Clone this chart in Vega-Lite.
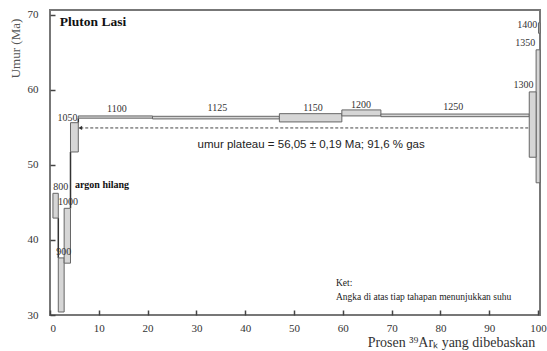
{
  "$schema": "https://vega.github.io/schema/vega-lite/v6.json",
  "width": 490,
  "height": 305,
  "autosize": {"type": "none"},
  "padding": {"left": 50, "top": 10, "right": 7, "bottom": 36},
  "background": "white",
  "config": {
    "view": {"stroke": "#777", "strokeWidth": 2},
    "axis": {
      "domain": false,
      "grid": false,
      "labelFont": "Liberation Serif",
      "labelFontSize": 11,
      "labelColor": "#333",
      "ticks": true,
      "tickColor": "#444",
      "tickWidth": 1.5,
      "tickSize": 5,
      "titleFont": "Liberation Serif",
      "titleFontWeight": "normal"
    }
  },
  "datasets": {
    "steps": [
      {"temp": "800", "x0": 0.6, "x1": 1.7, "lo": 42.9, "hi": 46.2},
      {"temp": "900", "x0": 1.7, "x1": 2.9, "lo": 30.4, "hi": 37.6},
      {"temp": "1000", "x0": 2.9, "x1": 4.2, "lo": 36.9, "hi": 44.2},
      {"temp": "1050", "x0": 4.2, "x1": 5.8, "lo": 51.7, "hi": 55.6},
      {"temp": "1100", "x0": 5.8, "x1": 21.0, "lo": 56.2, "hi": 56.5},
      {"temp": "1125", "x0": 21.0, "x1": 47.0, "lo": 56.1, "hi": 56.45},
      {"temp": "1150", "x0": 47.0, "x1": 59.8, "lo": 55.7, "hi": 56.8},
      {"temp": "1200", "x0": 59.8, "x1": 67.8, "lo": 56.5, "hi": 57.3},
      {"temp": "1250", "x0": 67.8, "x1": 98.2, "lo": 56.4, "hi": 56.75},
      {"temp": "1350", "x0": 99.6, "x1": 100.4, "lo": 47.6, "hi": 65.3},
      {"temp": "1300", "x0": 98.2, "x1": 99.6, "lo": 51.0, "hi": 59.7},
      {"temp": "1400", "x0": 100.1, "x1": 100.4, "lo": 67.5, "hi": 68.9}
    ],
    "connectors": [
      {"x0": 1.7, "lo": 37.6, "hi": 42.9},
      {"x0": 4.2, "lo": 44.2, "hi": 51.7},
      {"x0": 5.8, "lo": 55.6, "hi": 56.2}
    ],
    "labels": [
      {"temp": "800", "x": 2.2, "y": 47.1},
      {"temp": "900", "x": 2.8, "y": 38.4},
      {"temp": "1000", "x": 3.7, "y": 45.0},
      {"temp": "1050", "x": 3.6, "y": 56.2},
      {"temp": "1100", "x": 13.7, "y": 57.4},
      {"temp": "1125", "x": 34.3, "y": 57.6},
      {"temp": "1150", "x": 53.9, "y": 57.6},
      {"temp": "1200", "x": 63.7, "y": 58.0},
      {"temp": "1250", "x": 82.6, "y": 57.7},
      {"temp": "1300", "x": 97.0, "y": 60.6},
      {"temp": "1350", "x": 97.4, "y": 66.2},
      {"temp": "1400", "x": 97.8, "y": 68.6}
    ],
    "plateau": [{"x0": 6.2, "x1": 98.2, "lo": 54.9}],
    "titleText": [{"x": 2.0, "y": 69.0, "t": "Pluton Lasi"}],
    "argon": [{"x": 5.1, "y": 47.3, "t": "argon hilang"}],
    "plateauText": [{"x": 53.5, "y": 52.6, "t": "umur plateau = 56,05 ± 0,19 Ma; 91,6 % gas"}],
    "note": [
      {"x": 58.6, "y": 34.3, "t": "Ket:"},
      {"x": 58.6, "y": 32.4, "t": "Angka di atas tiap tahapan menunjukkan suhu"}
    ]
  },
  "layer": [
    {
      "data": {"name": "connectors"},
      "mark": {"type": "rule", "color": "#333", "strokeWidth": 1.5},
      "encoding": {
        "x": {"field": "x0", "type": "quantitative", "scale": {"domain": [0, 100.4], "nice": false, "zero": false},
              "axis": {"values": [0, 10, 20, 30, 40, 50, 60, 70, 80, 90, 100], "offset": -5, "labelPadding": 7, "title": "Prosen ³⁹Arₖ yang dibebaskan", "titleFontSize": 14, "titleColor": "#333", "titleX": 401, "titleY": 32, "titleAlign": "center", "titleBaseline": "middle"}},
        "y": {"field": "lo", "type": "quantitative", "scale": {"domain": [30, 70.6], "nice": false, "zero": false},
              "axis": {"values": [30, 40, 50, 60, 70], "offset": -5, "labelPadding": 12, "title": "Umur (Ma)", "titleFontSize": 13, "titleColor": "#555", "titleX": -40, "titleY": 38, "titleAngle": -90, "titleAlign": "center", "titleBaseline": "middle"}},
        "y2": {"field": "hi"}
      }
    },
    {
      "data": {"name": "steps"},
      "mark": {"type": "rect", "fill": "#d6d6d6", "stroke": "#666", "strokeWidth": 1},
      "encoding": {
        "x": {"field": "x0", "type": "quantitative"},
        "x2": {"field": "x1"},
        "y": {"field": "lo", "type": "quantitative"},
        "y2": {"field": "hi"}
      }
    },
    {
      "data": {"name": "plateau"},
      "mark": {"type": "rule", "color": "#444", "strokeWidth": 1, "strokeDash": [3, 2]},
      "encoding": {
        "x": {"field": "x0", "type": "quantitative"},
        "x2": {"field": "x1"},
        "y": {"field": "lo", "type": "quantitative"}
      }
    },
    {
      "data": {"name": "plateau"},
      "mark": {"type": "point", "shape": "triangle-left", "filled": true, "color": "#333", "size": 18, "opacity": 1},
      "encoding": {
        "x": {"field": "x0", "type": "quantitative"},
        "y": {"field": "lo", "type": "quantitative"}
      }
    },
    {
      "data": {"name": "labels"},
      "mark": {"type": "text", "font": "Liberation Serif", "fontSize": 10, "color": "#333", "align": "center", "baseline": "middle"},
      "encoding": {
        "x": {"field": "x", "type": "quantitative"},
        "y": {"field": "y", "type": "quantitative"},
        "text": {"field": "temp"}
      }
    },
    {
      "data": {"name": "titleText"},
      "mark": {"type": "text", "font": "Liberation Serif", "fontSize": 13.5, "fontWeight": "bold", "color": "#111", "align": "left", "baseline": "middle"},
      "encoding": {
        "x": {"field": "x", "type": "quantitative"},
        "y": {"field": "y", "type": "quantitative"},
        "text": {"field": "t"}
      }
    },
    {
      "data": {"name": "argon"},
      "mark": {"type": "text", "font": "Liberation Serif", "fontSize": 10, "fontWeight": "bold", "color": "#111", "align": "left", "baseline": "middle"},
      "encoding": {
        "x": {"field": "x", "type": "quantitative"},
        "y": {"field": "y", "type": "quantitative"},
        "text": {"field": "t"}
      }
    },
    {
      "data": {"name": "plateauText"},
      "mark": {"type": "text", "font": "Liberation Sans", "fontSize": 11.5, "color": "#222", "align": "center", "baseline": "middle"},
      "encoding": {
        "x": {"field": "x", "type": "quantitative"},
        "y": {"field": "y", "type": "quantitative"},
        "text": {"field": "t"}
      }
    },
    {
      "data": {"name": "note"},
      "mark": {"type": "text", "font": "Liberation Serif", "fontSize": 9.5, "color": "#222", "align": "left", "baseline": "middle"},
      "encoding": {
        "x": {"field": "x", "type": "quantitative"},
        "y": {"field": "y", "type": "quantitative"},
        "text": {"field": "t"}
      }
    }
  ]
}
